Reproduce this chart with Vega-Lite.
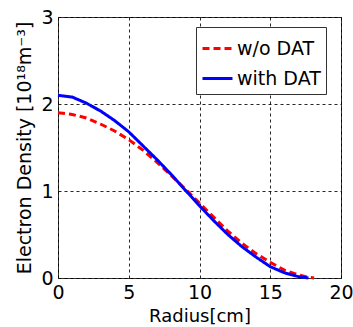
{
  "$schema": "https://vega.github.io/schema/vega-lite/v6.json",
  "width": 283,
  "height": 261,
  "autosize": "none",
  "padding": {"left": 58, "top": 17, "right": 12, "bottom": 49},
  "background": "white",
  "config": {"view": {"stroke": "#333", "strokeWidth": 1}, "font": "DejaVu Sans"},
  "data": {"values": [
    {"r": 0, "n": 1.90, "s": "w/o DAT"},
    {"r": 1, "n": 1.88, "s": "w/o DAT"},
    {"r": 2, "n": 1.84, "s": "w/o DAT"},
    {"r": 3, "n": 1.77, "s": "w/o DAT"},
    {"r": 4, "n": 1.69, "s": "w/o DAT"},
    {"r": 5, "n": 1.59, "s": "w/o DAT"},
    {"r": 6, "n": 1.47, "s": "w/o DAT"},
    {"r": 7, "n": 1.33, "s": "w/o DAT"},
    {"r": 8, "n": 1.18, "s": "w/o DAT"},
    {"r": 9, "n": 1.02, "s": "w/o DAT"},
    {"r": 10, "n": 0.86, "s": "w/o DAT"},
    {"r": 11, "n": 0.70, "s": "w/o DAT"},
    {"r": 12, "n": 0.54, "s": "w/o DAT"},
    {"r": 13, "n": 0.40, "s": "w/o DAT"},
    {"r": 14, "n": 0.28, "s": "w/o DAT"},
    {"r": 15, "n": 0.18, "s": "w/o DAT"},
    {"r": 16, "n": 0.09, "s": "w/o DAT"},
    {"r": 17, "n": 0.035, "s": "w/o DAT"},
    {"r": 17.6, "n": 0.012, "s": "w/o DAT"},
    {"r": 18.1, "n": 0, "s": "w/o DAT"},
    {"r": 0, "n": 2.10, "s": "with DAT"},
    {"r": 1, "n": 2.08, "s": "with DAT"},
    {"r": 2, "n": 2.01, "s": "with DAT"},
    {"r": 3, "n": 1.92, "s": "with DAT"},
    {"r": 4, "n": 1.81, "s": "with DAT"},
    {"r": 5, "n": 1.68, "s": "with DAT"},
    {"r": 6, "n": 1.52, "s": "with DAT"},
    {"r": 7, "n": 1.36, "s": "with DAT"},
    {"r": 8, "n": 1.19, "s": "with DAT"},
    {"r": 9, "n": 1.01, "s": "with DAT"},
    {"r": 10, "n": 0.83, "s": "with DAT"},
    {"r": 11, "n": 0.66, "s": "with DAT"},
    {"r": 12, "n": 0.50, "s": "with DAT"},
    {"r": 13, "n": 0.36, "s": "with DAT"},
    {"r": 14, "n": 0.24, "s": "with DAT"},
    {"r": 15, "n": 0.13, "s": "with DAT"},
    {"r": 16, "n": 0.06, "s": "with DAT"},
    {"r": 17, "n": 0.015, "s": "with DAT"},
    {"r": 17.7, "n": 0, "s": "with DAT"}
  ]},
  "mark": {"type": "line", "strokeWidth": 3},
  "encoding": {
    "x": {
      "field": "r", "type": "quantitative",
      "scale": {"domain": [0, 20], "nice": false},
      "axis": {
        "title": "Radius[cm]", "values": [0, 5, 10, 15, 20],
        "grid": true, "gridDash": [3, 3], "gridColor": "#000", "gridOpacity": 0.85,
        "domain": false, "ticks": false, "labelFlush": false,
        "labelFontSize": 19, "labelPadding": 5, "labelColor": "#000",
        "titleFontSize": 18, "titleFontWeight": "normal", "titlePadding": 5, "titleColor": "#000"
      }
    },
    "y": {
      "field": "n", "type": "quantitative",
      "scale": {"domain": [0, 3], "nice": false},
      "axis": {
        "title": "Electron Density [10¹⁸m⁻³]", "values": [0, 1, 2, 3],
        "grid": true, "gridDash": [3, 3], "gridColor": "#000", "gridOpacity": 0.85,
        "domain": false, "ticks": false,
        "labelFontSize": 19, "labelPadding": 5, "labelColor": "#000",
        "titleFontSize": 19, "titleFontWeight": "normal", "titlePadding": 6, "titleColor": "#000"
      }
    },
    "color": {
      "field": "s", "type": "nominal",
      "scale": {"domain": ["w/o DAT", "with DAT"], "range": ["#ff0000", "#0000ff"]},
      "legend": {
        "title": null, "orient": "none", "legendX": 138, "legendY": 10,
        "strokeColor": "#333", "fillColor": "white", "padding": 5,
        "labelFontSize": 19, "labelColor": "#000", "labelOffset": 3,
        "symbolType": "stroke", "symbolSize": 900, "symbolStrokeWidth": 3, "rowPadding": 3
      }
    },
    "strokeDash": {
      "field": "s", "type": "nominal",
      "scale": {"domain": ["w/o DAT", "with DAT"], "range": [[7, 4], [1, 0]]},
      "legend": {
        "title": null, "orient": "none", "legendX": 138, "legendY": 10,
        "strokeColor": "#333", "fillColor": "white", "padding": 5,
        "labelFontSize": 19, "labelColor": "#000", "labelOffset": 3,
        "symbolType": "stroke", "symbolSize": 900, "symbolStrokeWidth": 3, "rowPadding": 3
      }
    }
  }
}
